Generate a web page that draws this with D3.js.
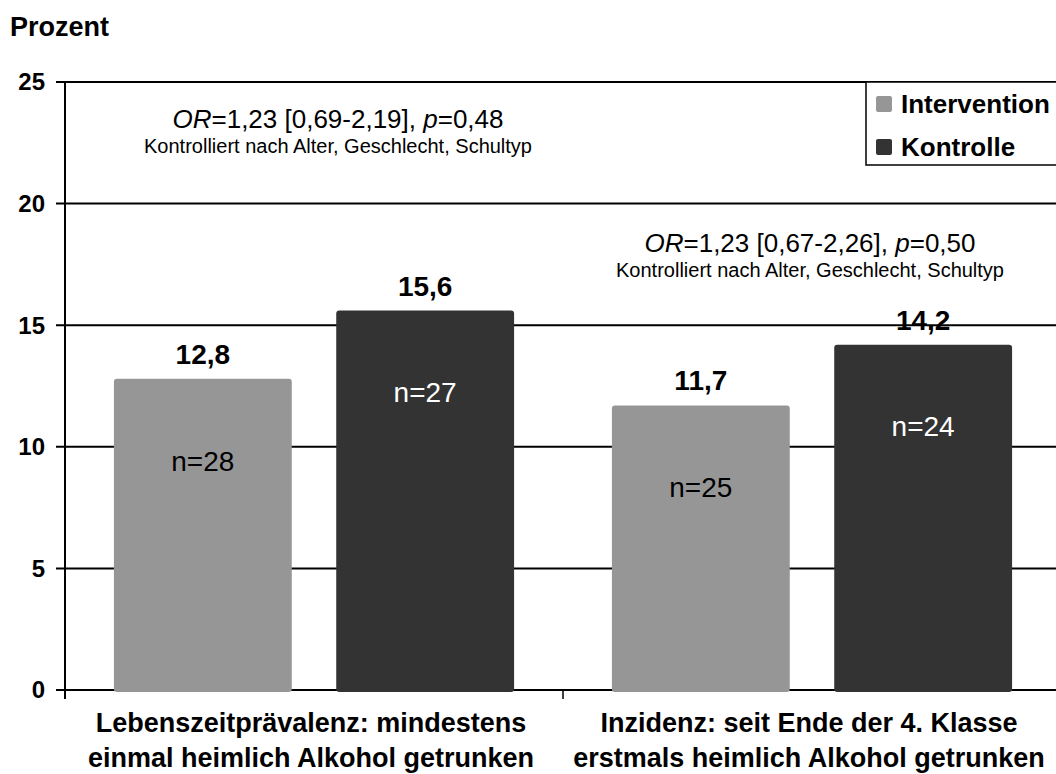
<!DOCTYPE html>
<html>
<head>
	<meta charset="utf-8">
	<title>Alkohol heimlich getrunken</title>
	<script src="https://d3js.org/d3.v7.min.js"></script>
	<style>
		body { margin: 0; padding: 0; background: #fff; }
		svg { display: block; font-family: "Liberation Sans", Arial, sans-serif; }
		.bold { font-weight: bold; }
	</style>
</head>
<body>
<div id="graph"></div>
<script>
// data
var categories = ["Lebenszeitprävalenz: mindestens|einmal heimlich Alkohol getrunken",
                  "Inzidenz: seit Ende der 4. Klasse|erstmals heimlich Alkohol getrunken"];
var seriesNames = ["Intervention", "Kontrolle"];
var intervention = [12.8, 11.7];
var kontrolle = [15.6, 14.2];
var nIntervention = [28, 25];
var nKontrolle = [27, 24];
var orText = ["1,23 [0,69-2,19], ", "1,23 [0,67-2,26], "];
var pText = ["0,48", "0,50"];
var yTicks = [0, 5, 10, 15, 20, 25];

var width = 1056, height = 774;
var margin = {top: 82, left: 65, bottom: 84, right: -5};

var svg = d3.select("#graph").append("svg")
	.attr("width", width)
	.attr("height", height);

var x0 = d3.scaleBand()
	.domain(d3.range(categories.length))
	.range([margin.left, width - margin.right]);

var x1 = d3.scaleBand()
	.domain(seriesNames)
	.range([0, x0.bandwidth()])
	.paddingInner(0.2)
	.paddingOuter(0.22);

var y = d3.scaleLinear()
	.domain([0, 25])
	.range([height - margin.bottom, margin.top]);

var colour = d3.scaleOrdinal().domain(seriesNames).range(["#969696", "#333333"]);

// y axis title
svg.append("text")
	.attr("class", "bold")
	.attr("x", 10).attr("y", 36)
	.attr("font-size", 27)
	.text("Prozent");

// gridlines
svg.append("g")
	.selectAll("line")
	.data(yTicks)
	.enter().append("line")
	.attr("x1", margin.left - 9)
	.attr("x2", width)
	.attr("y1", function (d) { return y(d); })
	.attr("y2", function (d) { return y(d); })
	.attr("stroke", "#000")
	.attr("stroke-width", 2);

// y tick labels
svg.append("g")
	.selectAll("text")
	.data(yTicks)
	.enter().append("text")
	.attr("class", "bold")
	.attr("x", 45)
	.attr("y", function (d) { return y(d); })
	.attr("dy", "0.35em")
	.attr("text-anchor", "end")
	.attr("font-size", 24)
	.text(function (d) { return d; });

// bars
var rows = categories.map(function (c, i) {
	return [
		{cat: i, s: "Intervention", v: intervention[i], n: nIntervention[i]},
		{cat: i, s: "Kontrolle", v: kontrolle[i], n: nKontrolle[i]}
	];
});

var groups = svg.append("g").selectAll("g")
	.data(rows)
	.enter().append("g")
	.attr("transform", function (d, i) { return "translate(" + x0(i) + ",0)"; });

groups.selectAll("rect")
	.data(function (d) { return d; })
	.enter().append("rect")
	.attr("x", function (d) { return x1(d.s); })
	.attr("y", function (d) { return y(d.v); })
	.attr("width", x1.bandwidth())
	.attr("height", function (d) { return y(0) - y(d.v) + 2; })
	.attr("rx", 3)
	.attr("fill", function (d) { return colour(d.s); });

// value labels
groups.selectAll(".val")
	.data(function (d) { return d; })
	.enter().append("text")
	.attr("class", "bold")
	.attr("x", function (d) { return x1(d.s) + x1.bandwidth() / 2; })
	.attr("y", function (d) { return y(d.v) - 15; })
	.attr("text-anchor", "middle")
	.attr("font-size", 28)
	.text(function (d) { return d3.format(".1f")(d.v).replace(".", ","); });

// n labels
groups.selectAll(".n")
	.data(function (d) { return d; })
	.enter().append("text")
	.attr("x", function (d) { return x1(d.s) + x1.bandwidth() / 2; })
	.attr("y", function (d) { return y(d.v) + 82; })
	.attr("dy", "0.35em")
	.attr("text-anchor", "middle")
	.attr("font-size", 28)
	.attr("fill", function (d) { return d.s == "Kontrolle" ? "#fff" : "#000"; })
	.text(function (d) { return "n=" + d.n; });

// y axis line and ticks on the category axis
svg.append("line")
	.attr("x1", margin.left).attr("x2", margin.left)
	.attr("y1", y(25)).attr("y2", y(0) + 9)
	.attr("stroke", "#000").attr("stroke-width", 2);
svg.append("g").selectAll("line")
	.data(d3.range(1, categories.length))
	.enter().append("line")
	.attr("x1", function (i) { return x0(i); })
	.attr("x2", function (i) { return x0(i); })
	.attr("y1", y(0)).attr("y2", y(0) + 9)
	.attr("stroke", "#000").attr("stroke-width", 1.5);

// category labels
groups.append("text")
	.attr("class", "bold")
	.attr("text-anchor", "middle")
	.attr("font-size", 27)
	.selectAll("tspan")
	.data(function (d, i) { return categories[i].split("|"); })
	.enter().append("tspan")
	.attr("x", x0.bandwidth() / 2 - 3)
	.attr("y", function (d, j) { return 732 + j * 35; })
	.text(function (d) { return d; });

// odds ratio notes
var notes = groups.append("g")
	.attr("transform", function (d, i) {
		return "translate(" + (x0.bandwidth() / 2 + (i == 0 ? 24 : -2)) + "," + (i == 0 ? y(23.1) : y(18.0)) + ")";
	});

var orLine = notes.append("text")
	.attr("text-anchor", "middle")
	.attr("font-size", 26);
orLine.append("tspan").attr("font-style", "italic").text("OR");
orLine.append("tspan").text(function (d, i) { return "=" + orText[i]; });
orLine.append("tspan").attr("font-style", "italic").text("p");
orLine.append("tspan").text(function (d, i) { return "=" + pText[i]; });

notes.append("text")
	.attr("text-anchor", "middle")
	.attr("y", 25)
	.attr("font-size", 20)
	.text("Kontrolliert nach Alter, Geschlecht, Schultyp");

// legend
var legend = svg.append("g").attr("transform", "translate(866," + y(25) + ")");
legend.append("rect")
	.attr("x", 0).attr("y", 0)
	.attr("width", 200).attr("height", 83)
	.attr("fill", "#fff")
	.attr("stroke", "#000").attr("stroke-width", 1.5);
var li = legend.selectAll(".li")
	.data(seriesNames)
	.enter().append("g")
	.attr("transform", function (d, i) { return "translate(10," + (22 + i * 43) + ")"; });
li.append("rect")
	.attr("x", 0).attr("y", -8)
	.attr("width", 16).attr("height", 16)
	.attr("rx", 2)
	.attr("fill", function (d) { return colour(d); });
li.append("text")
	.attr("class", "bold")
	.attr("x", 25)
	.attr("dy", "0.36em")
	.attr("font-size", 26)
	.text(function (d) { return d; });
</script>
</body>
</html>
